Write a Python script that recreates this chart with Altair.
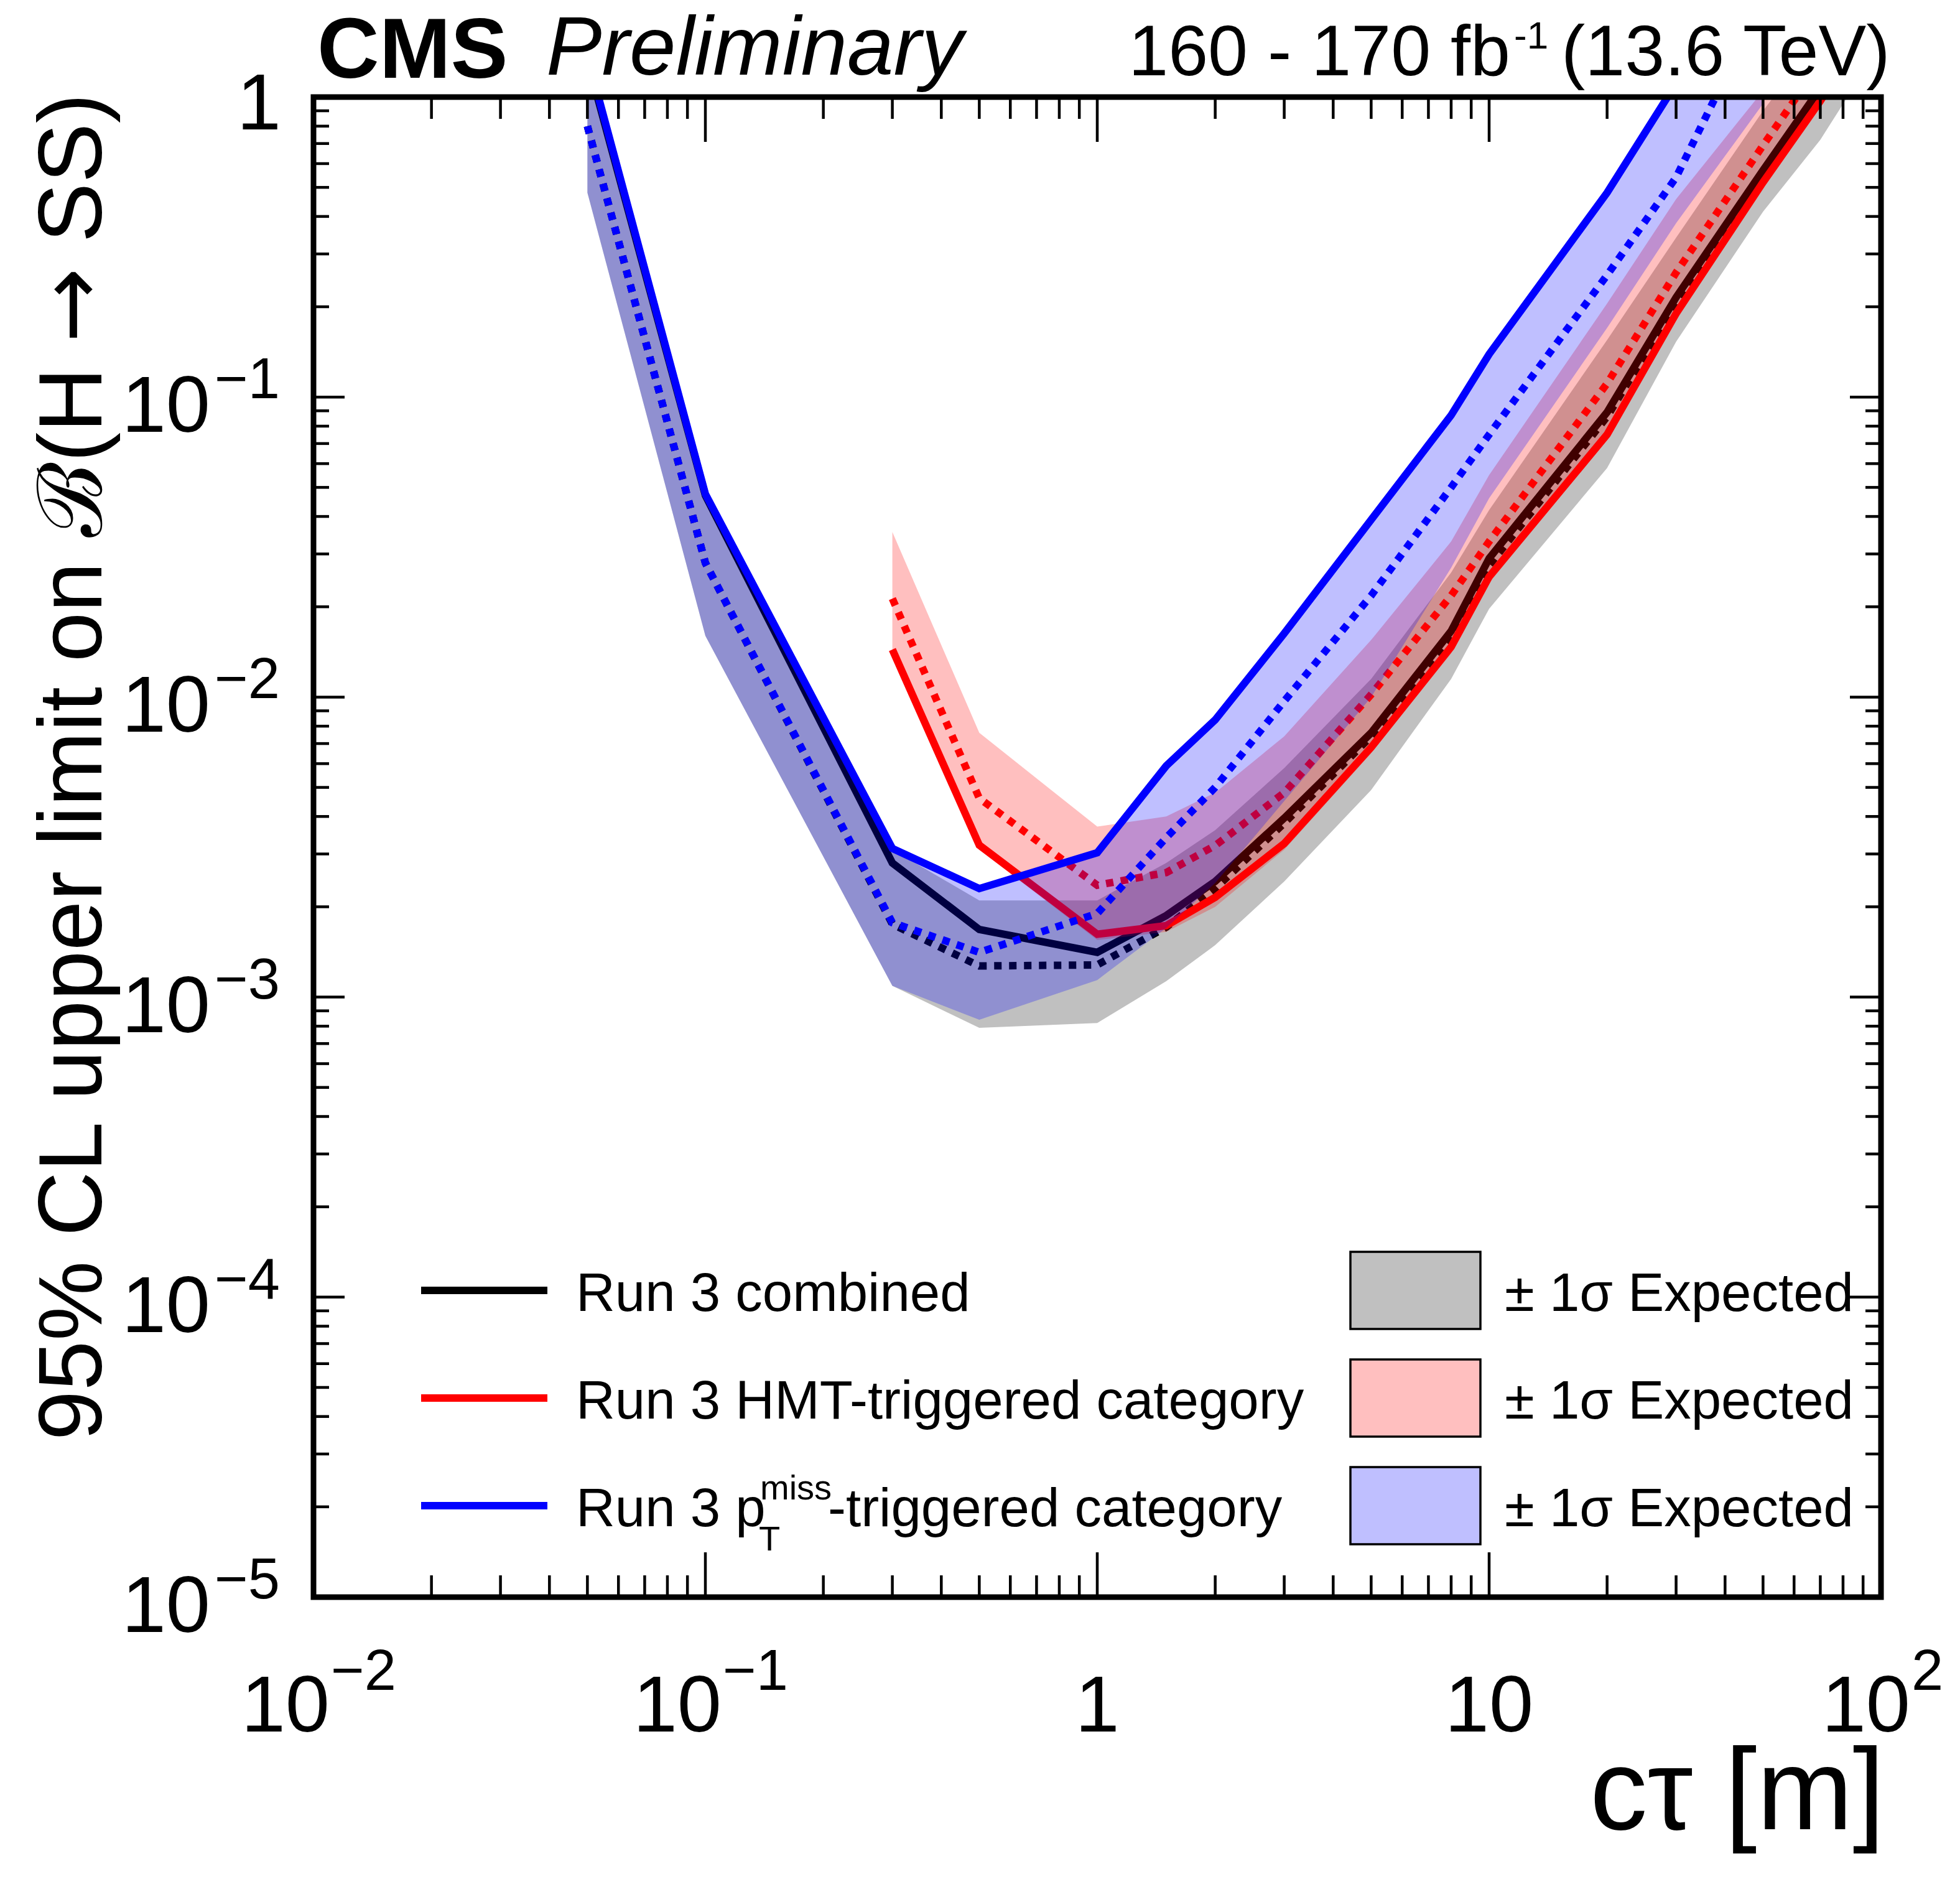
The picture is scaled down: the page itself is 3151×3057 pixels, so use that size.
import altair as alt
import pandas as pd

# ---------------- data ----------------
# Run 3 combined
ct = [0.05, 0.1, 0.3, 0.5, 1, 1.5, 2, 3, 5, 8, 10, 20, 30, 50, 70, 100]
comb_obs = [1.33, 0.047, 0.0028, 0.00168, 0.00141, 0.00187, 0.00243, 0.00395, 0.0076, 0.0166, 0.029, 0.089, 0.215, 0.57, 1.07, 2.3]
comb_exp = [0.80, 0.028, 0.00175, 0.00127, 0.00128, 0.00171, 0.0023, 0.0038, 0.0074, 0.0160, 0.0275, 0.086, 0.205, 0.55, 1.0, 2.2]
comb_lo = [0.48, 0.016, 0.00109, 0.00079, 0.00082, 0.00113, 0.00149, 0.00243, 0.0049, 0.0115, 0.0197, 0.058, 0.153, 0.415, 0.72, 1.5]
comb_hi = [1.4, 0.047, 0.0031, 0.0021, 0.0021, 0.0028, 0.0036, 0.0058, 0.0115, 0.026, 0.042, 0.155, 0.34, 0.9, 1.6, 3.0]

# Run 3 HMT-triggered category
ct_hmt = [0.3, 0.5, 1, 1.5, 2, 3, 5, 8, 10, 20, 30, 50, 70, 100]
hmt_obs = [0.0144, 0.00321, 0.00162, 0.00173, 0.00215, 0.00325, 0.0068, 0.0147, 0.0252, 0.075, 0.19, 0.52, 0.97, 2.0]
hmt_exp = [0.0213, 0.0046, 0.00236, 0.0026, 0.0032, 0.0048, 0.0102, 0.0218, 0.033, 0.111, 0.26, 0.69, 1.3, 2.6]
hmt_lo = [0.0135, 0.0031, 0.00155, 0.00165, 0.0020, 0.0031, 0.0065, 0.014, 0.024, 0.072, 0.18, 0.5, 0.93, 1.9]
hmt_hi = [0.0355, 0.0076, 0.0037, 0.0040, 0.0048, 0.0074, 0.0155, 0.033, 0.055, 0.205, 0.457, 1.05, 1.8, 3.0]

# Run 3 pTmiss-triggered category
ct_met = [0.05, 0.1, 0.3, 0.5, 1, 1.5, 2, 3, 5, 8, 10, 20, 30, 50]
met_obs = [1.37, 0.0475, 0.00313, 0.0023, 0.00303, 0.0059, 0.0084, 0.0163, 0.039, 0.087, 0.139, 0.48, 1.11, 3.5]
met_exp = [0.80, 0.028, 0.00177, 0.00141, 0.0019, 0.0034, 0.0050, 0.0097, 0.0218, 0.050, 0.075, 0.255, 0.54, 2.1]
met_lo = [0.48, 0.016, 0.00109, 0.00084, 0.00114, 0.0017, 0.0024, 0.0045, 0.0100, 0.027, 0.046, 0.17, 0.38, 0.95]
met_hi = [1.4, 0.0475, 0.00313, 0.0023, 0.00303, 0.0059, 0.0084, 0.0163, 0.039, 0.087, 0.139, 0.48, 1.11, 3.5]

# axis ticks and labels
x_major = [0.01, 0.1, 1, 10, 100]
x_minor = [m * 10.0 ** e for e in range(-2, 2) for m in range(2, 10)]
y_major = [1e-5, 1e-4, 1e-3, 1e-2, 1e-1, 1]
y_minor = [m * 10.0 ** e for e in range(-5, 0) for m in range(2, 10)]
x_lab_neg_vals = [0.01, 0.1]
x_lab_neg_exp = ["\u22122", "\u22121"]
x_lab_pos_vals = [100]
x_lab_pos_exp = ["2"]
x_lab_plain_vals = [1, 10]
x_lab_plain = ["1", "10"]
y_lab_vals = [1e-1, 1e-2, 1e-3, 1e-4, 1e-5]
y_lab_exp = ["\u22121", "\u22122", "\u22123", "\u22124", "\u22125"]

legend_lines = ["Run 3 combined", "Run 3 HMT-triggered category", "Run 3 p"]
legend_band = "\u00b1 1\u03c3 Expected"

# ---------------- layout / style ----------------
W, H = 2520, 2411
FONT = "Liberation Sans"
LW = 12
DASH = [12, 12]

xs = alt.Scale(type="log", domain=[0.01, 100])
ys = alt.Scale(type="log", domain=[1e-5, 1])


def X(f="ct"):
    return alt.X(f"{f}:Q", scale=xs, axis=None)


def Y(f="v"):
    return alt.Y(f"{f}:Q", scale=ys, axis=None)


def band(x, lo, hi, color, opacity):
    df = pd.DataFrame({"ct": x, "lo": lo, "hi": hi})
    return alt.Chart(df).mark_area(color=color, opacity=opacity, clip=True).encode(
        x=X(), y=Y("lo"), y2=alt.Y2("hi:Q"))


def line(x, v, color, dashed):
    df = pd.DataFrame({"ct": x, "v": v})
    kw = dict(color=color, strokeWidth=LW, clip=True)
    if dashed:
        kw["strokeDash"] = DASH
    return alt.Chart(df).mark_line(**kw).encode(x=X(), y=Y())


one = pd.DataFrame({"a": [0]})


def txt(text, x, y, size, align="left", weight="normal", style="normal", angle=0,
        baseline="alphabetic", font=FONT):
    kw = dict(text=text, font=font, fontSize=size, align=align, fontWeight=weight,
              fontStyle=style, baseline=baseline, color="black")
    if angle:
        kw["angle"] = angle
    return alt.Chart(one).mark_text(**kw).encode(x=alt.value(x), y=alt.value(y))


layers = [
    band(ct, comb_lo, comb_hi, "#c0c0c0", 1.0),
    line(ct, comb_exp, "black", True),
    line(ct, comb_obs, "black", False),
    band(ct_hmt, hmt_lo, hmt_hi, "#ff0000", 0.25),
    line(ct_hmt, hmt_exp, "#ff0000", True),
    line(ct_hmt, hmt_obs, "#ff0000", False),
    band(ct_met, met_lo, met_hi, "#0000ff", 0.25),
    line(ct_met, met_exp, "#0000ff", True),
    line(ct_met, met_obs, "#0000ff", False),
]

# ---- ticks (inward, on all four sides) ----
TW = 4.5
for vals, ln in [(x_major, 72), (x_minor, 35)]:
    base = alt.Chart(pd.DataFrame({"ct": vals})).mark_rule(color="black", strokeWidth=TW)
    layers.append(base.encode(x=X(), y=alt.value(H), y2=alt.value(H - ln)))
    layers.append(base.encode(x=X(), y=alt.value(0), y2=alt.value(ln)))
for vals, ln in [(y_major, 50), (y_minor, 25)]:
    base = alt.Chart(pd.DataFrame({"v": vals})).mark_rule(color="black", strokeWidth=TW)
    layers.append(base.encode(y=Y(), x=alt.value(0), x2=alt.value(ln)))
    layers.append(base.encode(y=Y(), x=alt.value(W), x2=alt.value(W - ln)))

# frame
layers.append(alt.Chart(one).mark_rect(fillOpacity=0, stroke="black", strokeWidth=9).encode(
    x=alt.value(0), x2=alt.value(W), y=alt.value(0), y2=alt.value(H)))

# ---- tick labels ----
BASE_F, EXP_F = 128, 92
# x axis
df = pd.DataFrame({"ct": x_lab_plain_vals, "t": x_lab_plain})
layers.append(alt.Chart(df).mark_text(font=FONT, fontSize=BASE_F, align="center", baseline="alphabetic").encode(
    x=X(), y=alt.value(H + 216), text="t:N"))
for vals, exps, d in [(x_lab_neg_vals, x_lab_neg_exp, 26), (x_lab_pos_vals, x_lab_pos_exp, 47)]:
    df = pd.DataFrame({"ct": vals, "b": ["10"] * len(vals), "e": exps})
    layers.append(alt.Chart(df).mark_text(font=FONT, fontSize=BASE_F, align="right", baseline="alphabetic", dx=d).encode(
        x=X(), y=alt.value(H + 216), text="b:N"))
    layers.append(alt.Chart(df).mark_text(font=FONT, fontSize=EXP_F, align="left", baseline="alphabetic", dx=d + 2).encode(
        x=X(), y=alt.value(H + 149), text="e:N"))
# y axis
df = pd.DataFrame({"v": y_lab_vals, "b": ["10"] * len(y_lab_vals), "e": y_lab_exp})
layers.append(alt.Chart(df).mark_text(font=FONT, fontSize=BASE_F, align="right", baseline="alphabetic", dy=56).encode(
    y=Y(), x=alt.value(-166), text="b:N"))
layers.append(alt.Chart(df).mark_text(font=FONT, fontSize=EXP_F, align="left", baseline="alphabetic", dy=2).encode(
    y=Y(), x=alt.value(-159), text="e:N"))
df = pd.DataFrame({"v": [1], "t": ["1"]})
layers.append(alt.Chart(df).mark_text(font=FONT, fontSize=BASE_F, align="right", baseline="alphabetic", dy=52).encode(
    y=Y(), x=alt.value(-52), text="t:N"))

# ---- axis titles ----
TF = 144
TX = -341
SP = 0.278 * TF              # a space
w_tail = 1.667 * TF          # width of "SS)"
w_arrow = 0.838 * TF         # width of the arrow glyph (DejaVu Sans)
layers.append(txt("SS)", TX, -6, TF, align="right", angle=270))
layers.append(txt("\u2192", TX, -6 + w_tail + SP, TF, align="right", angle=270, font="DejaVu Sans"))
layers.append(txt("95% CL upper limit on \u212c(H", TX, -6 + w_tail + w_arrow + 2 * SP, TF,
                  align="right", angle=270))
layers.append(txt("c\u03c4 [m]", 2526, H + 373, 185, align="right"))

# ---- header ----
layers.append(txt("CMS", 6, -31, 138, weight="bold"))
layers.append(txt("Preliminary", 374, -36, 134, style="italic"))
layers.append(txt("160 - 170 fb", 1924, -35, 115, align="right"))
layers.append(txt("-1", 1930, -78, 62))
layers.append(txt("(13.6 TeV)", 2006, -35, 115))

# ---- legend ----
rows = [1918, 2091, 2264]
line_cols = ["black", "#ff0000", "#0000ff"]
box_cols = ["#c0c0c0", "#ffbfbf", "#bfbfff"]
LEG_F = 87
for i, ry in enumerate(rows):
    layers.append(alt.Chart(one).mark_rule(color=line_cols[i], strokeWidth=12).encode(
        x=alt.value(173), x2=alt.value(376), y=alt.value(ry)))
    layers.append(alt.Chart(one).mark_rect(fill=box_cols[i], stroke="black", strokeWidth=3.5).encode(
        x=alt.value(1667), x2=alt.value(1876), y=alt.value(ry - 62), y2=alt.value(ry + 62)))
    layers.append(txt(legend_lines[i], 422, ry + 33, LEG_F))
    layers.append(txt(legend_band, 1915, ry + 33, LEG_F))
# superscript / subscript of pT miss
r3 = rows[2]
layers.append(txt("miss", 718, r3 - 10, 56))
layers.append(txt("T", 716, r3 + 72, 56))
layers.append(txt("-triggered category", 827, r3 + 33, LEG_F))

chart = alt.layer(*layers).properties(
    width=W, height=H,
    autosize=alt.AutoSizeParams(type="none"),
    padding={"left": 496, "top": 148, "right": 118, "bottom": 470},
    background="white",
).configure_view(strokeWidth=0)

chart.save("out.html", embed_options={"renderer": "svg", "actions": False})
